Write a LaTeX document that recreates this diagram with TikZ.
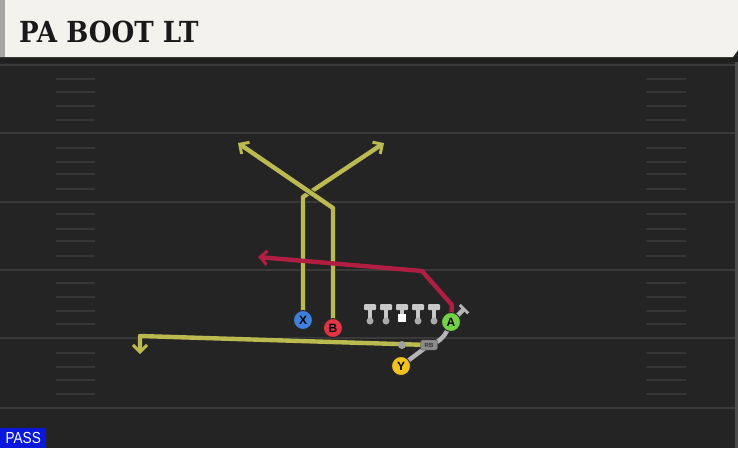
\documentclass[tikz,border=0pt]{standalone}
\usepackage{fontspec}
\setmainfont{DejaVu Serif}
\setsansfont{Liberation Sans}
\usetikzlibrary{arrows.meta}
\definecolor{fieldbg}{HTML}{242424}
\definecolor{headbg}{HTML}{F4F2EC}
\definecolor{yardc}{HTML}{3A3A3A}
\definecolor{hashc}{HTML}{363636}
\definecolor{routeY}{HTML}{BABA50}
\definecolor{routeR}{HTML}{B01E42}
\definecolor{routeG}{HTML}{B4B4B4}
\definecolor{pX}{HTML}{3D80DE}
\definecolor{pB}{HTML}{E23444}
\definecolor{pA}{HTML}{74D044}
\definecolor{pY}{HTML}{F2C21E}
\definecolor{olc}{HTML}{C8C8C8}
\definecolor{passc}{HTML}{0A18DC}
\pgfdeclarelayer{bgfield}
\pgfdeclarelayer{bgroutes}
\pgfsetlayers{bgfield,bgroutes,main}
\tikzset{
  player/.style={circle, draw=black!85, line width=0.9pt, fill=#1, minimum size=19pt, inner sep=0pt, font=\sffamily\bfseries\fontsize{12}{12}\selectfont, text=black},
  yroute/.style={draw=routeY, line width=4.4pt, line join=round, preaction={draw=black!85, line width=6pt}},
  rroute/.style={draw=routeR, line width=4.4pt, line join=round},
  groute/.style={draw=routeG, line width=4.4pt, line join=round},
  chev/.style={-{Straight Barb[length=7pt,width=14pt,line width=3pt]}},
  yardline/.style={draw=yardc, line width=2pt},
  hashline/.style={draw=hashc, line width=1.6pt}
}
\begin{document}
\begin{tikzpicture}[x=1pt,y=-1pt]
\useasboundingbox (0,0) rectangle (738,448);
\begin{pgfonlayer}{bgfield}
\fill[fieldbg] (0,0) rectangle (738,448);
\fill[black!88] (0,56) rectangle (738,62);
\fill[headbg] (0,0) -- (738,0) -- (738,50) -- (733,57) -- (0,57) -- cycle;
\fill[black!35] (0,0) rectangle (5,57);
\foreach \yy in {65,133,202,270,338,408} {\draw[yardline] (0,\yy) -- (738,\yy);}
\foreach \yy in {79,92,106,120,148,162,174,189,214,229,241,256,283,297,311,324,353,367,380,394} {
  \draw[hashline] (56,\yy) -- (95,\yy);
  \draw[hashline] (646,\yy) -- (686,\yy);
}
\fill[black!70] (735,62) rectangle (738,448);
\end{pgfonlayer}
% title
\node[anchor=west, inner sep=0pt, font=\bfseries\fontsize{29}{29}\selectfont, text=black!90] (title) at (19,32) {\scalebox{0.9}[1]{PA BOOT LT}};
% PASS label
\node[anchor=south west, fill=passc, text=white, inner sep=0pt, minimum width=46pt, minimum height=20pt, font=\sffamily\fontsize{16}{16}\selectfont] (pass) at (0,448) {\scalebox{0.85}[1]{PASS}};
% players
\node[player=pX] (x) at (303,320) {X};
\node[player=pB] (b) at (333,328) {B};
\node[player=pA] (a) at (451,322) {A};
\node[player=pY] (y) at (401,366) {Y};
% offensive line
\foreach \xx/\nm in {370/t1,386/t2,418/t4,434/t5} {
  \fill[olc, rounded corners=1pt] (\xx-6,304) rectangle (\xx+6,310);
  \draw[olc, line width=4pt] (\xx,308) -- (\xx,320);
  \node[circle, fill=olc!85!black, inner sep=0pt, minimum size=7pt] (\nm) at (\xx,321) {};
}
\fill[olc, rounded corners=1pt] (396,304) rectangle (408,310);
\draw[olc, line width=4pt] (402,308) -- (402,315);
\node[rectangle, fill=white, inner sep=0pt, minimum size=8pt] (c) at (402,318) {};
% RB tag and dot
\node[fill=black!45, draw=black!70, line width=0.4pt, rounded corners=2pt, inner sep=0pt, minimum width=17pt, minimum height=10pt, font=\sffamily\bfseries\fontsize{6}{6}\selectfont, text=black!80] (rb) at (429,345) {RB};
\node[circle, fill=routeG!90!black, inner sep=0pt, minimum size=8pt] (dot) at (402,345) {};
% route coordinates
\coordinate (xb) at (303,197);
\coordinate (xe) at (384,143);
\coordinate (bb) at (333,208);
\coordinate (be) at (238,143);
\coordinate (ab) at (452,305);
\coordinate (ac) at (422,271);
\coordinate (ae) at (258,257);
\coordinate (rc) at (140,336);
\coordinate (re) at (140,354);
\coordinate (te) at (465,308);
\begin{pgfonlayer}{bgroutes}
\draw[yroute, chev] (x.center) -- (xb) -- (xe);
\draw[yroute, chev] (b.center) -- (bb) -- (be);
\draw[yroute, chev] (rb.center) -- (rc) -- (re);
\draw[rroute, chev] (a.center) -- (ab) -- (ac) -- (ae);
\draw[groute] (y.center) -- (rb.center) .. controls (441,342) and (446,335) .. (a.center);
\draw[groute, -{Bar[width=12pt,line width=3pt]}] (a.center) -- (te);
\end{pgfonlayer}
\end{tikzpicture}
\end{document}
